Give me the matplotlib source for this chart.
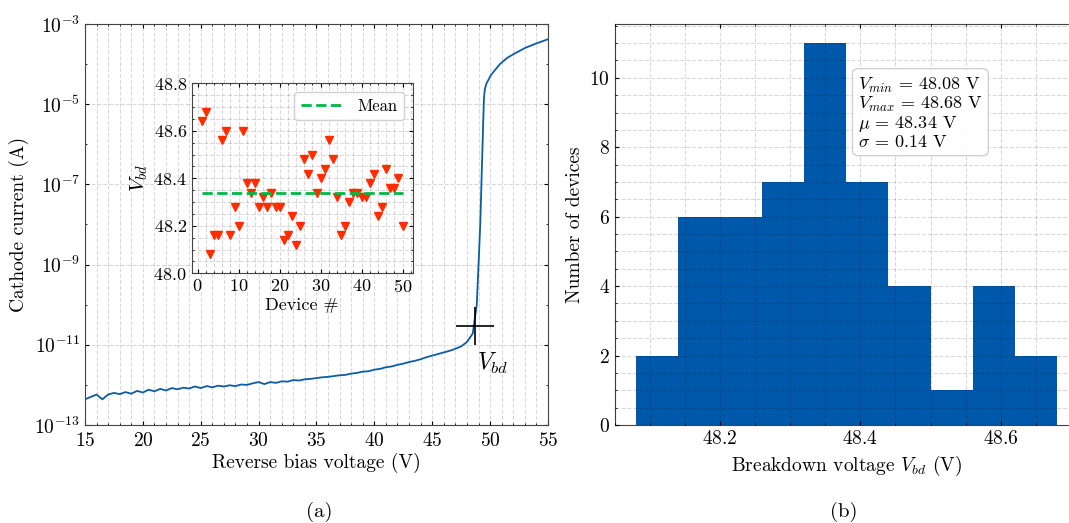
import numpy as np
import matplotlib
matplotlib.use("Agg")
import matplotlib.pyplot as plt
from matplotlib.ticker import FixedLocator, NullFormatter, MultipleLocator, AutoMinorLocator

# I-V sweep below breakdown: voltage (V) and log10 of cathode current (A)
v_leak = np.arange(15.0, 48.51, 0.5)
logi_leak = [
    -12.36, -12.30, -12.24, -12.36, -12.24, -12.20, -12.23, -12.18, -12.22, -12.15,
    -12.19, -12.12, -12.16, -12.10, -12.14, -12.08, -12.11, -12.07, -12.09, -12.04,
    -12.08, -12.03, -12.06, -12.02, -12.04, -12.01, -12.03, -11.99, -12.00, -11.96,
    -11.93, -11.98, -11.93, -11.95, -11.91, -11.92, -11.88, -11.89, -11.86, -11.85,
    -11.83, -11.81, -11.80, -11.78, -11.76, -11.75, -11.72, -11.70, -11.67, -11.66,
    -11.62, -11.60, -11.56, -11.54, -11.50, -11.47, -11.43, -11.40, -11.36, -11.31,
    -11.27, -11.23, -11.19, -11.15, -11.10, -11.04, -10.93, -10.72,
]

# breakdown and above
v_bd_region = [48.7, 48.85, 49.0, 49.15, 49.25, 49.35, 49.42, 49.47, 49.55,
               49.68, 50.08, 50.85, 51.5, 52.1, 53.0, 53.94, 55.0]
logi_bd_region = [-10.52, -10.0, -9.0, -8.0, -7.0, -6.0, -5.3, -4.85, -4.62,
                  -4.49, -4.27, -4.00, -3.84, -3.74, -3.60, -3.49, -3.38]

# breakdown point of the swept device
v_bd_point = 48.7
i_bd_point = 3.0e-11

# breakdown voltage of each device (V)
device_vbd = [
    48.64, 48.68, 48.08, 48.16, 48.16, 48.56, 48.60, 48.16, 48.28, 48.20,
    48.60, 48.38, 48.34, 48.38, 48.28, 48.32, 48.28, 48.34, 48.28, 48.28,
    48.14, 48.16, 48.24, 48.12, 48.20, 48.48, 48.42, 48.50, 48.34, 48.40,
    48.44, 48.56, 48.48, 48.32, 48.16, 48.20, 48.30, 48.34, 48.34, 48.32,
    48.32, 48.38, 48.42, 48.24, 48.28, 48.44, 48.36, 48.36, 48.40, 48.20,
]

BLUE = "#0C5DA5"
BAR = "#0058AA"
RED = "#FF2C00"
GREEN = "#00B945"

plt.rcParams.update({
    "font.family": ["cmr10", "DejaVu Serif"],
    "mathtext.fontset": "cm",
    "axes.formatter.use_mathtext": True,
    "font.size": 14,
    "axes.unicode_minus": False,
    "xtick.direction": "in",
    "ytick.direction": "in",
    "xtick.top": True,
    "ytick.right": True,
    "xtick.minor.visible": True,
    "ytick.minor.visible": True,
    "xtick.major.size": 3,
    "ytick.major.size": 3,
    "xtick.minor.size": 1.5,
    "ytick.minor.size": 1.5,
    "axes.linewidth": 0.8,
    "axes.edgecolor": "#444444",
    "grid.color": "black",
    "grid.alpha": 0.15,
    "grid.linestyle": "--",
    "grid.linewidth": 0.8,
})


def main():
    fig = plt.figure(figsize=(10.69, 5.23), dpi=100)

    # (a) I-V curve
    ax = fig.add_axes([0.0795, 0.1874, 0.4331, 0.7667])
    v = np.concatenate([v_leak, v_bd_region[1:]])
    i = 10.0 ** np.concatenate([logi_leak, logi_bd_region[1:]])
    ax.plot(v, i, color=BLUE, lw=1.3)
    ax.set_yscale("log")
    ax.set_xlim(15, 55)
    ax.set_ylim(1e-13, 1e-3)
    ax.xaxis.set_major_locator(MultipleLocator(5))
    ax.xaxis.set_minor_locator(MultipleLocator(1))
    ax.yaxis.set_major_locator(FixedLocator([10.0 ** k for k in range(-13, -2, 2)]))
    ax.yaxis.set_minor_locator(FixedLocator([10.0 ** k for k in range(-12, -3, 2)]))
    ax.yaxis.set_minor_formatter(NullFormatter())
    ax.tick_params(axis="x", which="major", pad=5)
    ax.xaxis.grid(True, which="both")
    ax.yaxis.grid(True, which="major")
    ax.set_xlabel("Reverse bias voltage (V)", labelpad=2)
    ax.set_ylabel("Cathode current (A)")

    ax.plot([v_bd_point], [i_bd_point], marker="+", color="black",
            markersize=28, mew=1.2, zorder=5)
    ax.text(50.25, 3.5e-12, r"$V_{bd}$", fontsize=17, ha="center", va="center")

    # inset: Vbd per device
    ins = fig.add_axes([0.1793, 0.4774, 0.2067, 0.3633])
    ins.set_facecolor("white")
    dev = np.arange(1, len(device_vbd) + 1)
    mean_vbd = np.mean(device_vbd)
    ins.plot(dev, device_vbd, "v", color=RED, markersize=6, ls="none")
    ins.plot([dev[0], dev[-1]], [mean_vbd, mean_vbd], "--", color=GREEN,
             lw=2, label="Mean")
    ins.set_ylim(48.0, 48.8)
    ins.yaxis.set_major_locator(MultipleLocator(0.2))
    ins.yaxis.set_minor_locator(AutoMinorLocator(4))
    ins.xaxis.set_major_locator(MultipleLocator(10))
    ins.xaxis.set_minor_locator(AutoMinorLocator(5))
    ins.tick_params(labelsize=13)
    ins.grid(True, which="both")
    ins.set_xlabel("Device #", fontsize=13, labelpad=2)
    ins.set_ylabel(r"$V_{bd}$", fontsize=15, labelpad=2)
    ins.legend(loc="upper right", fontsize=12, frameon=True, fancybox=True,
               edgecolor="#cccccc", framealpha=0.9, handlelength=2.6)

    # (b) histogram of breakdown voltages
    axh = fig.add_axes([0.575, 0.1874, 0.4334, 0.7667])
    vmin, vmax = min(device_vbd), max(device_vbd)
    edges = np.linspace(vmin, vmax, 11)
    edges[1:-1] -= 1e-6
    axh.hist(device_vbd, bins=edges, color=BAR)
    axh.set_axisbelow(False)
    axh.set_xlim(48.05, 48.71)
    axh.set_ylim(0, 11.55)
    axh.xaxis.set_major_locator(MultipleLocator(0.2))
    axh.xaxis.set_minor_locator(MultipleLocator(0.05))
    axh.yaxis.set_major_locator(MultipleLocator(2))
    axh.yaxis.set_minor_locator(MultipleLocator(0.5))
    axh.grid(True, which="both")
    axh.set_xlabel(r"Breakdown voltage $V_{bd}$ (V)")
    axh.set_ylabel("Number of devices")

    stats = "\n".join([
        r"$V_{min}$ = %.2f V" % vmin,
        r"$V_{max}$ = %.2f V" % vmax,
        r"$\mu$ = %.2f V" % np.mean(device_vbd),
        r"$\sigma$ = %.2f V" % np.std(device_vbd),
    ])
    axh.text(0.525, 0.87, stats, transform=axh.transAxes, fontsize=13,
             va="top", ha="left", linespacing=1.0,
             bbox=dict(boxstyle="round,pad=0.3", fc="white", ec="#cccccc", alpha=0.9))

    fig.text(0.299, 0.021, "(a)", ha="center", va="center", fontsize=15)
    fig.text(0.789, 0.021, "(b)", ha="center", va="center", fontsize=15)

    fig.savefig("out.png", dpi=100)


if __name__ == "__main__":
    main()
